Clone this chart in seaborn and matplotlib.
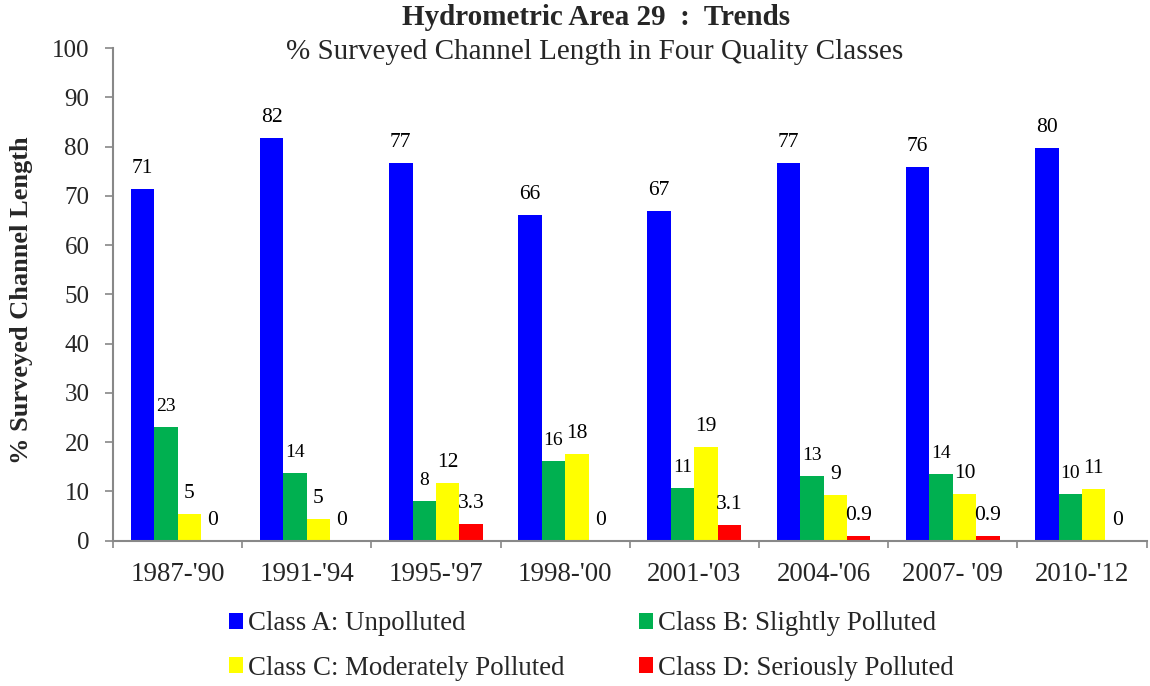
import numpy as np
import pandas as pd
import matplotlib
matplotlib.use("Agg")
import matplotlib.pyplot as plt
import seaborn as sns
from matplotlib.patches import Patch
from matplotlib.ticker import FixedLocator

periods = ["1987-'90", "1991-'94", "1995-'97", "1998-'00", "2001-'03", "2004-'06", "2007- '09", "2010-'12"]
class_a = [71.4, 81.8, 76.7, 66.1, 66.9, 76.7, 75.9, 79.8]
class_b = [23.1, 13.7, 8.1, 16.2, 10.8, 13.1, 13.5, 9.5]
class_c = [5.4, 4.5, 11.7, 17.7, 19.1, 9.3, 9.5, 10.6]
class_d = [0.0, 0.0, 3.3, 0.0, 3.1, 0.9, 0.9, 0.0]
labels_a = ["71", "82", "77", "66", "67", "77", "76", "80"]
labels_b = ["23", "14", "8", "16", "11", "13", "14", "10"]
labels_c = ["5", "5", "12", "18", "19", "9", "10", "11"]
labels_d = ["0", "0", "3.3", "0", "3.1", "0.9", "0.9", "0"]
class_names = ["Class A: Unpolluted", "Class B: Slightly Polluted",
               "Class C: Moderately Polluted", "Class D: Seriously Polluted"]
colors = ["#0000FF", "#00B050", "#FFFF00", "#FF0000"]
yticks = [0, 10, 20, 30, 40, 50, 60, 70, 80, 90, 100]

sns.set_theme(style="white")
plt.rcParams["font.family"] = ["Liberation Serif", "DejaVu Serif"]

series = [class_a, class_b, class_c, class_d]
label_sets = [labels_a, labels_b, labels_c, labels_d]
rows = []
for name, vals in zip(class_names, series):
    for p, v in zip(periods, vals):
        rows.append({"period": p, "cls": name, "value": v})
df = pd.DataFrame(rows)

fig = plt.figure(figsize=(11.5, 6.86), dpi=100)
ax = fig.add_axes([0.0983, 0.2118, 0.8987, 0.7179])

sns.barplot(data=df, x="period", y="value", hue="cls", order=periods,
            hue_order=class_names, palette=colors, width=0.726, gap=0,
            saturation=1, linewidth=0, legend=False, ax=ax)

for cont, labs, fs in zip(ax.containers, label_sets, [15.5, 14, 15.5, 15.5]):
    for bar, lab in zip(cont, labs):
        ax.annotate(lab, (bar.get_x() + bar.get_width() / 2, bar.get_height()),
                    xytext=(0, 11.5), textcoords="offset points",
                    ha="center", va="baseline", fontsize=fs, color="black")

ax.set_ylim(0, 100)
ax.set_xlim(-0.5, len(periods) - 0.5)
ax.set_yticks(yticks)
ax.set_yticklabels([str(t) for t in yticks], fontsize=18)
ax.tick_params(axis="y", direction="out", length=6, width=1.2, color="#888888", pad=11, left=True)
ax.tick_params(axis="x", which="major", length=0, pad=15, labelsize=19.4)
ax.xaxis.set_minor_locator(FixedLocator(np.arange(-0.5, len(periods), 1.0)))
ax.tick_params(axis="x", which="minor", direction="out", length=5, width=1.2, color="#888888", bottom=True)
for s in ["top", "right"]:
    ax.spines[s].set_visible(False)
for s in ["left", "bottom"]:
    ax.spines[s].set_color("#888888")
    ax.spines[s].set_linewidth(1.5)
ax.set_xlabel("")
ax.set_ylabel("")
fig.text(0.019, 0.563, "% Surveyed Channel Length", rotation=90, ha="center", va="center",
         fontsize=19, fontweight="bold")

fig.text(0.518, 0.975, "Hydrometric Area 29  :  Trends", ha="center", va="center",
         fontsize=21, fontweight="bold")
fig.text(0.517, 0.924, "% Surveyed Channel Length in Four Quality Classes", ha="center",
         va="center", fontsize=21)

handles = [Patch(facecolor=c, edgecolor="none") for c in colors]
order = [0, 2, 1, 3]
fig.legend([handles[i] for i in order], [class_names[i] for i in order], ncol=2,
           loc="upper left", bbox_to_anchor=(0.199, 0.109),
           bbox_transform=fig.transFigure, borderaxespad=0, borderpad=0,
           frameon=False, fontsize=19.4, handlelength=0.52, handleheight=0.52,
           handletextpad=0.19, columnspacing=2.75, labelspacing=0.72)

fig.savefig("out.png", dpi=100)
